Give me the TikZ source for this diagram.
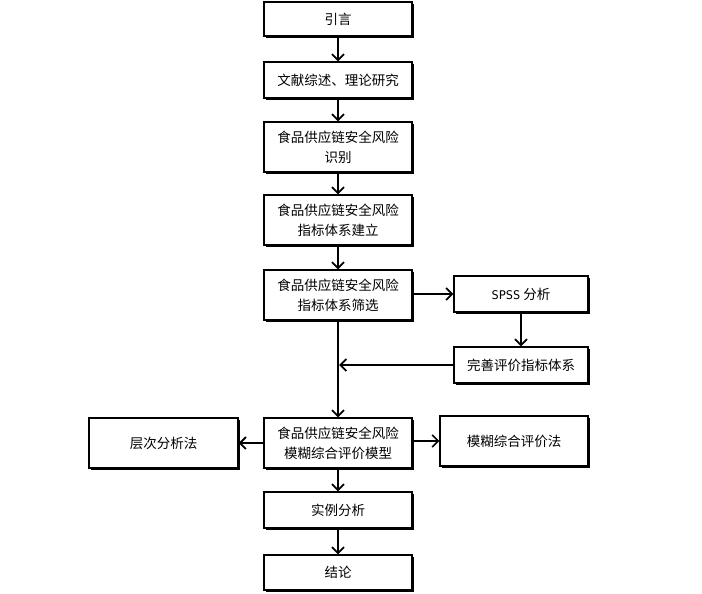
\documentclass[tikz,border=0pt]{standalone}
\usepackage{fontspec}
\setmainfont{Noto Sans CJK SC}
\newfontfamily\spssfont{DejaVu Sans Mono}
\usetikzlibrary{arrows.meta,shadows}
\begin{document}
\begin{tikzpicture}[x=1pt,y=-1pt,
  box/.style={draw,line width=1.4pt,fill=white,align=center,font=\fontsize{13.5}{20}\selectfont,
    inner sep=0pt,drop shadow={shadow xshift=1.8pt,shadow yshift=-1.8pt,fill=black,opacity=1}},
  arr/.style={line width=2pt,-{Straight Barb[length=6pt,width=12pt,line width=1.8pt]}},
  thinarr/.style={line width=1.3pt,-{Straight Barb[length=6pt,width=12pt,line width=1.6pt]}}]
\useasboundingbox (0,0) rectangle (702,594);
\newcommand{\bx}[6]{\node[box,minimum width=#4-#2,minimum height=#5-#3] (#1) at ({(#2+#4)/2},{(#3+#5)/2}) {#6};}
\bx{a}{264}{2}{412}{36}{引言}
\bx{b}{264}{62}{412}{98}{文献综述、理论研究}
\bx{c}{264}{122}{412}{172}{食品供应链安全风险\\识别}
\bx{d}{264}{195}{412}{245}{食品供应链安全风险\\指标体系建立}
\bx{e}{264}{270}{412}{320}{食品供应链安全风险\\指标体系筛选}
\bx{s}{454}{276}{588}{312}{{\spssfont\fontsize{12}{20}\selectfont SPSS} 分析}
\bx{w}{454}{347}{588}{383}{完善评价指标体系}
\bx{m}{264}{418}{412}{468}{食品供应链安全风险\\模糊综合评价模型}
\bx{h}{89}{418}{238}{468}{层次分析法}
\bx{f}{440}{416}{588}{466}{模糊综合评价法}
\bx{g}{264}{492}{412}{528}{实例分析}
\bx{j}{264}{555}{412}{590}{结论}
\draw[arr] (a) -- (b);
\draw[arr] (b) -- (c);
\draw[arr] (c) -- (d);
\draw[arr] (d) -- (e);
\draw[arr] (e) -- (m);
\draw[arr] (e.east |- s) -- (s);
\draw[arr] (s) -- (w);
\coordinate (wj) at (e.south |- w.west);
\draw[arr] (w.west) -- ([xshift=1pt]wj);
\draw[arr] (m.west |- h) -- (h);
\draw[thinarr] (m.east |- f) -- (f);
\draw[arr] (m) -- (g);
\draw[arr] (g) -- (j);
\end{tikzpicture}
\end{document}
